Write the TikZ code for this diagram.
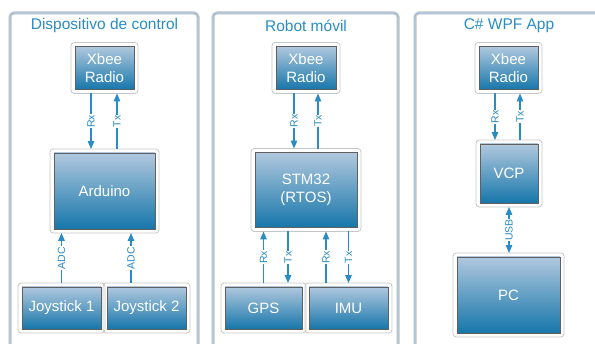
\documentclass[tikz,border=0pt]{standalone}
\usepackage{fontspec}
\setmainfont{Liberation Sans}
\usetikzlibrary{arrows.meta,calc}
\definecolor{accent}{RGB}{41,140,196}
\definecolor{boxtop}{RGB}{176,200,222}
\definecolor{boxbot}{RGB}{22,118,170}
\definecolor{panelgray}{RGB}{212,215,218}
\definecolor{panelblue}{RGB}{120,168,210}
\begin{document}
\begin{tikzpicture}[x=1pt,y=-1pt,
  panelband/.style={rounded corners=4pt, draw=panelgray, line width=3.5pt},
  panelline/.style={rounded corners=4pt, draw=panelblue, line width=0.7pt},
  title/.style={text=accent, font=\fontsize{15.5}{17}\selectfont},
  dev/.style={draw=gray!75!black, line width=0.9pt, top color=boxtop, bottom color=boxbot,
    text=white, align=center, inner sep=0pt, font=\fontsize{15}{18}\selectfont},
  frame/.style={draw=gray!45, line width=0.8pt, rounded corners=3pt},
  arr/.style={draw=accent, line width=1.2pt, -{Triangle[width=6.5pt,length=8pt]},
    shorten <=3.5pt, shorten >=3.5pt},
  darr/.style={arr, {Triangle[width=6.5pt,length=8pt]}-{Triangle[width=6.5pt,length=8pt]}},
  lbl/.style={fill=white, text=accent, rotate=90, inner sep=0.6pt, font=\fontsize{10.5}{11}\selectfont}]
\clip (0,0) rectangle (595,344);
\foreach \a/\b in {10/198, 213/398, 415/620} {
  \draw[panelband] (\a,13) rectangle (\b,370);
  \draw[panelline] (\a,13) rectangle (\b,370);
}
% titles
\node[title] (t1) at (104.5,25.5) {Dispositivo de control};
\node[title] (t2) at (306,25.5) {Robot móvil};
\node[title] (t3) at (509,25.5) {C\# WPF App};
% panel 1
\node[dev, minimum width=59pt, minimum height=43pt] (xb1) at (104.5,68) {Xbee\\Radio};
\node[dev, minimum width=101pt, minimum height=76pt] (ard) at (104.5,191) {Arduino};
\node[dev, minimum width=79pt, minimum height=42pt] (joy1) at (61.5,308) {Joystick 1};
\node[dev, minimum width=79pt, minimum height=42pt] (joy2) at (146.5,308) {Joystick 2};
% panel 2
\node[dev, minimum width=60pt, minimum height=43pt] (xb2) at (306,68) {Xbee\\Radio};
\node[dev, minimum width=102pt, minimum height=75pt] (stm) at (306,190) {STM32\\(RTOS)};
\node[dev, minimum width=77pt, minimum height=42pt] (gps) at (263.5,308) {GPS};
\node[dev, minimum width=79pt, minimum height=42pt] (imu) at (348.5,308) {IMU};
% panel 3
\node[dev, minimum width=59pt, minimum height=43pt] (xb3) at (508.5,68) {Xbee\\Radio};
\node[dev, minimum width=58pt, minimum height=59pt] (vcp) at (509,173.5) {VCP};
\node[dev, minimum width=103pt, minimum height=76pt] (pc) at (508.5,295) {PC};
% frames
\foreach \n in {xb1,ard,joy1,joy2,xb2,stm,gps,imu,xb3,vcp,pc}
  \draw[frame] ([shift={(-3.5pt,-3.5pt)}]\n.south west) rectangle ([shift={(3.5pt,3.5pt)}]\n.north east);
% connectors panel 1
\draw[arr] ([xshift=-13.5pt]xb1.south) -- ([xshift=-13.5pt]ard.north) node[lbl,midway]{Rx};
\draw[arr] ([xshift=12.5pt]ard.north) -- ([xshift=12.5pt]xb1.south) node[lbl,midway]{Tx};
\draw[arr] (joy1.north) -- (joy1.north |- ard.south) node[lbl,midway]{ADC};
\draw[arr] ([xshift=-15.5pt]joy2.north) -- ($(joy2.north |- ard.south)+(-15.5pt,0)$) node[lbl,midway]{ADC};
% connectors panel 2
\draw[arr] ([xshift=-12pt]xb2.south) -- ([xshift=-12pt]stm.north) node[lbl,midway]{Rx};
\draw[arr] ([xshift=12pt]stm.north) -- ([xshift=12pt]xb2.south) node[lbl,midway]{Tx};
\draw[arr] (gps.north) -- (gps.north |- stm.south) node[lbl,midway]{Rx};
\draw[arr] ($(gps.north |- stm.south)+(24.5pt,0)$) -- ([xshift=24.5pt]gps.north) node[lbl,midway]{Tx};
\draw[arr] ([xshift=-22.5pt]imu.north) -- ($(imu.north |- stm.south)+(-22.5pt,0)$) node[lbl,midway]{Rx};
\draw[arr] (imu.north |- stm.south) -- (imu.north) node[lbl,midway]{Tx};
% connectors panel 3
\draw[arr] ([xshift=-13.5pt]xb3.south) -- ([xshift=-14pt]vcp.north) node[lbl,midway]{Rx};
\draw[arr] ([xshift=11pt]vcp.north) -- ([xshift=11.5pt]xb3.south) node[lbl,midway]{Tx};
\draw[darr] (vcp.south) -- (vcp.south |- pc.north) node[lbl,midway]{USB};
\end{tikzpicture}
\end{document}
